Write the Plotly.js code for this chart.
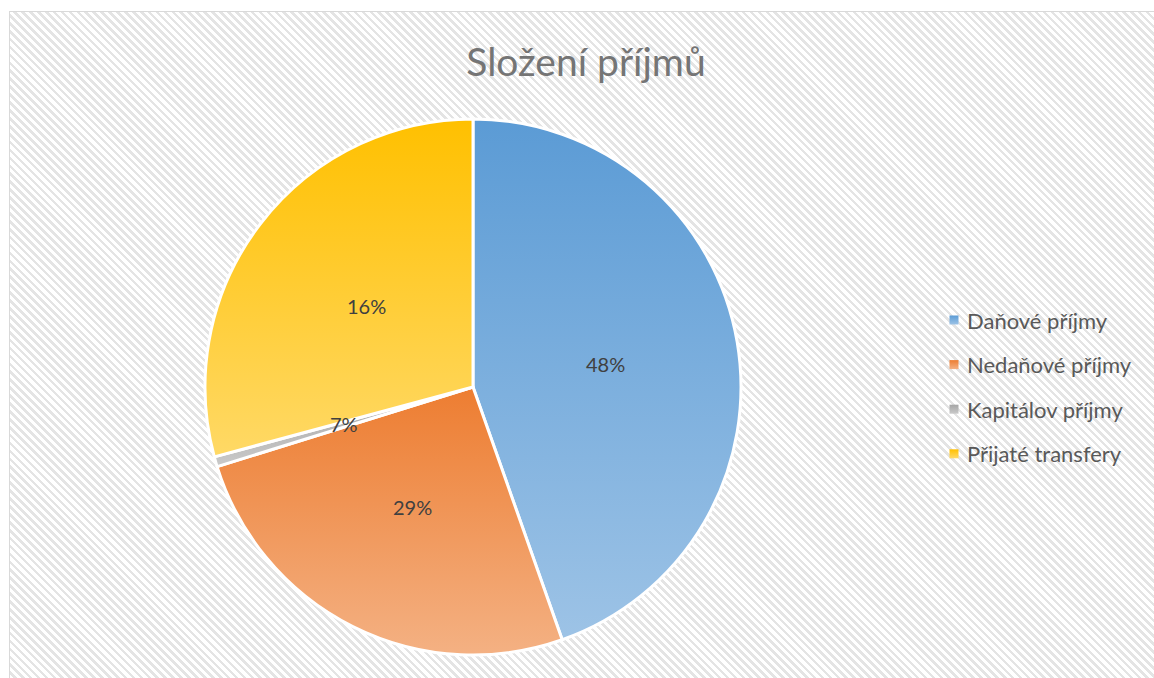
<!DOCTYPE html>
<html>
<head>
<meta charset="utf-8">
<script src="https://cdn.plot.ly/plotly-3.0.1.min.js"></script>
<style>
  html, body { margin:0; padding:0; width:1154px; height:678px; overflow:hidden; background:#fff; }
  #bg { position:absolute; left:9px; top:11px; width:1200px; height:720px;
        border:1px solid #d9d9d9; box-sizing:border-box;
        background: repeating-linear-gradient(45deg, #e4e4e4 0px, #e4e4e4 2.6px, #ffffff 2.6px, #ffffff 5.6px); }
  #chart { position:absolute; left:0; top:0; width:1154px; height:678px; }
</style>
</head>
<body>
<div id="bg"></div>
<div id="chart"></div>
<script>
// ---- data ----
const categories = ["Daňové příjmy", "Nedaňové příjmy", "Kapitálov příjmy", "Přijaté transfery"];
const sliceValues = [44.6, 25.6, 0.6, 29.2];
const labelTexts = ["48%", "29%", "7%", "16%"];
const titleText = "Složení příjmů";

// ---- styles ----
const gradTop    = ["#5B9BD5", "#ED7D31", "#A5A5A5", "#FFC000"];
const gradBottom = ["#9DC3E6", "#F4B183", "#C9C9C9", "#FFD966"];
const FONT = "Lato, 'Open Sans', sans-serif";

const W = 1154, H = 678;
const margin = {l:205, r:413, t:119, b:23};
const pw = W - margin.l - margin.r, ph = H - margin.t - margin.b;
const R = Math.min(pw, ph) / 2;

// data labels at half radius, angles from the values
const total = sliceValues.reduce((a,b)=>a+b,0);
let cum = 0;
const annotations = sliceValues.map((v,i) => {
  const mid = (cum + v/2) / total * 2 * Math.PI;
  cum += v;
  return {
    xref:'paper', yref:'paper',
    x: 0.5 + (R*0.5*Math.sin(mid))/pw,
    y: 0.5 + (R*0.5*Math.cos(mid))/ph,
    text: labelTexts[i], showarrow:false,
    xanchor:'center', yanchor:'middle',
    font:{family:FONT, size:20, color:'#404040'}
  };
});

const data = [{
  type:'pie',
  labels: categories,
  values: sliceValues,
  sort:false,
  direction:'clockwise',
  rotation:0,
  textinfo:'none',
  hoverinfo:'label+percent',
  marker:{colors: gradTop, line:{color:'#ffffff', width:3}},
  domain:{x:[0,1], y:[0,1]}
}];

const layout = {
  width:W, height:H,
  margin: margin,
  paper_bgcolor:'rgba(0,0,0,0)',
  plot_bgcolor:'rgba(0,0,0,0)',
  title:{text:titleText, xref:'container', yref:'container', x:586/W, xanchor:'center',
         y:1-62/H, yanchor:'middle', font:{family:FONT, size:39, color:'#757575'}},
  showlegend:true,
  legend:{xref:'container', yref:'container', x:927/W, xanchor:'left', y:1-300/H, yanchor:'top',
          font:{family:FONT, size:22, color:'#595959'}, bgcolor:'rgba(0,0,0,0)'},
  annotations: annotations
};

const gd = document.getElementById('chart');
Plotly.newPlot(gd, data, layout, {staticPlot:true, displayModeBar:false}).then(() => {
  const svgNS = 'http://www.w3.org/2000/svg';
  const svg = gd.querySelector('svg.main-svg');
  let defs = svg.querySelector('defs');
  if (!defs) { defs = document.createElementNS(svgNS,'defs'); svg.insertBefore(defs, svg.firstChild); }
  gradTop.forEach((c,i) => {
    const lg = document.createElementNS(svgNS,'linearGradient');
    lg.setAttribute('id','sliceGrad'+i);
    lg.setAttribute('x1','0'); lg.setAttribute('y1','0');
    lg.setAttribute('x2','0'); lg.setAttribute('y2','1');
    [[0,c],[1,gradBottom[i]]].forEach(([o,col]) => {
      const st = document.createElementNS(svgNS,'stop');
      st.setAttribute('offset', o);
      st.setAttribute('stop-color', col);
      lg.appendChild(st);
    });
    defs.appendChild(lg);
  });
  gd.querySelectorAll('g.slice path.surface').forEach((p,i) => {
    p.style.fill = 'url(#sliceGrad'+i+')';
  });
  // legend: gradient symbols, spacing
  gd.querySelectorAll('.legend [clip-path]').forEach(e => e.removeAttribute('clip-path'));
  const items = gd.querySelectorAll('.legend g.traces');
  items.forEach((g,i) => {
    const sym = g.querySelector('.legendpoints path');
    if (sym) { sym.style.fill = 'url(#sliceGrad'+i+')'; sym.setAttribute('transform','translate(27,0) scale(0.75)'); sym.style.strokeWidth='0'; }
    const r = g.getBoundingClientRect();
    const cy = r.top + r.height/2;
    const target = 320 + i*44.6;
    const m = /translate\(([-\d.]+)[ ,]+([-\d.]+)\)/.exec(g.getAttribute('transform') || 'translate(0,0)');
    const tx = m ? parseFloat(m[1]) : 0, ty = m ? parseFloat(m[2]) : 0;
    g.setAttribute('transform', 'translate(' + tx + ',' + (ty + target - cy) + ')');
  });
});
</script>
</body>
</html>
